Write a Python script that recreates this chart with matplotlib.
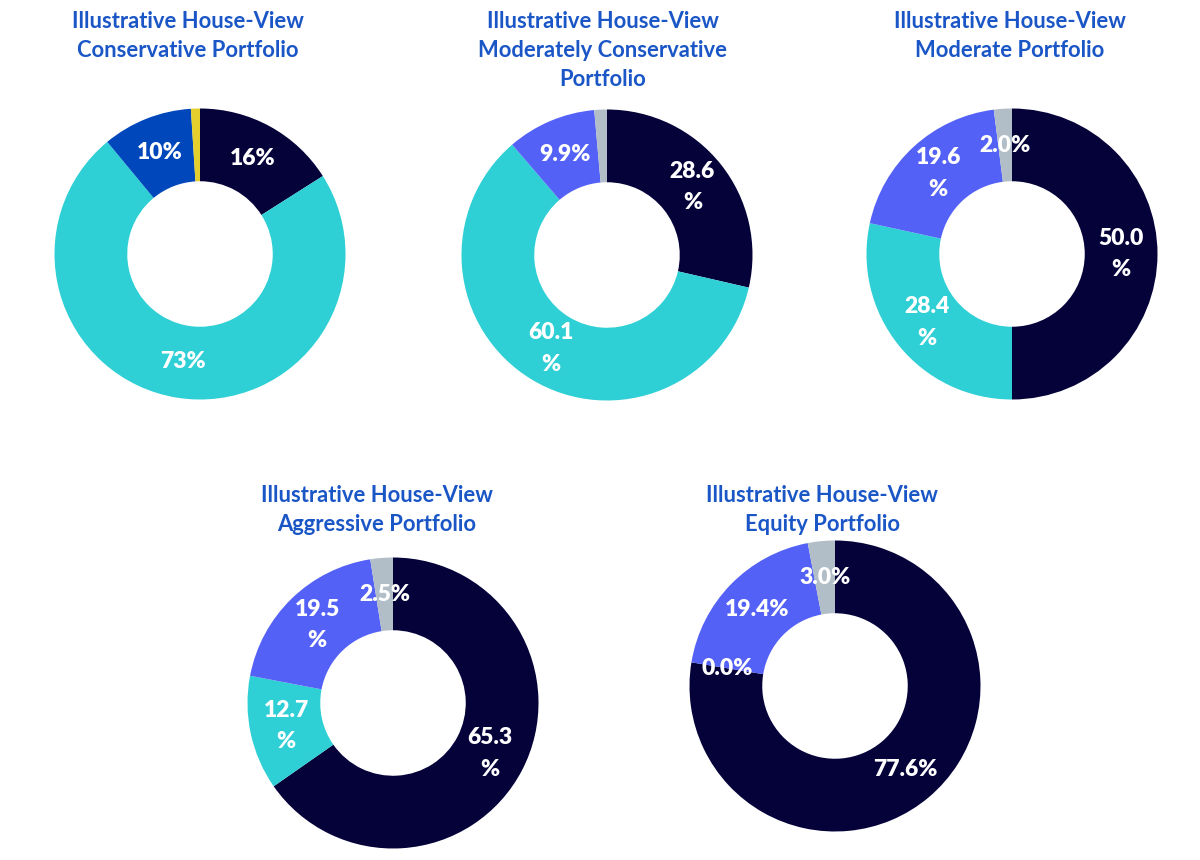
import numpy as np
import matplotlib
matplotlib.use("Agg")
import matplotlib.pyplot as plt

# --- data -------------------------------------------------------------
titles = [
    "Illustrative House-View\nConservative Portfolio",
    "Illustrative House-View\nModerately Conservative\nPortfolio",
    "Illustrative House-View\nModerate Portfolio",
    "Illustrative House-View\nAggressive Portfolio",
    "Illustrative House-View\nEquity Portfolio",
]

conservative = [16, 73, 10, 1]
mod_conservative = [28.6, 60.1, 9.9, 1.4]
moderate = [50.0, 28.4, 19.6, 2.0]
aggressive = [65.3, 12.7, 19.5, 2.5]
equity = [77.6, 0.0, 19.4, 3.0]

conservative_labels = ["16%", "73%", "10%", ""]
mod_conservative_labels = ["28.6\n%", "60.1\n%", "9.9%", ""]
moderate_labels = ["50.0\n%", "28.4\n%", "19.6\n%", "2.0%"]
aggressive_labels = ["65.3\n%", "12.7\n%", "19.5\n%", "2.5%"]
equity_labels = ["77.6%", "0.0%", "19.4%", "3.0%"]

NAVY = "#05023A"
CYAN = "#2ECFD5"
ROYAL = "#0047BB"
PERI = "#5461F6"
GREY = "#B1BEC8"
YELLOW = "#E4CF2C"
TITLE_BLUE = "#1A56C6"

colors_first = [NAVY, CYAN, ROYAL, YELLOW]
colors_rest = [NAVY, CYAN, PERI, GREY]

# --- layout (pixel centres of each donut, title centres) -------------
W, H = 1200, 860
R_PX = 145.5
centers = [(200, 254), (607, 255), (1012, 254), (393, 703), (835, 686)]
title_x = [188, 603, 1010, 377, 822]
title_first_y = [21, 21, 21, 495, 495]
LINE_PX = 29.5

plt.rcParams["font.family"] = ["Lato", "DejaVu Sans"]

fig = plt.figure(figsize=(W / 100, H / 100), dpi=100)
fig.patch.set_facecolor("white")

series = [conservative, mod_conservative, moderate, aggressive, equity]
labels = [conservative_labels, mod_conservative_labels, moderate_labels,
          aggressive_labels, equity_labels]

for i, (vals, labs) in enumerate(zip(series, labels)):
    cx, cy = centers[i]
    ax = fig.add_axes([(cx - R_PX) / W, 1 - (cy + R_PX) / H,
                       2 * R_PX / W, 2 * R_PX / H])
    cols = colors_first if i == 0 else colors_rest
    wedges, _ = ax.pie(vals, colors=cols, startangle=90, counterclock=False,
                       radius=1.0, wedgeprops=dict(width=0.5, linewidth=0))
    ax.set_xlim(-1, 1)
    ax.set_ylim(-1, 1)
    ax.set_aspect("equal")
    ax.axis("off")

    # labels at the middle of each ring segment
    for w, lab in zip(wedges, labs):
        if not lab:
            continue
        ang = np.deg2rad((w.theta1 + w.theta2) / 2)
        r = 0.75
        ax.text(r * np.cos(ang), r * np.sin(ang), lab, ha="center",
                va="center", color="white", fontsize=16.5, fontweight="heavy",
                linespacing=1.6)

    n_lines = titles[i].count("\n") + 1
    ty = title_first_y[i] + (n_lines - 1) * LINE_PX / 2
    fig.text(title_x[i] / W, 1 - ty / H, titles[i], ha="center", va="center",
             color=TITLE_BLUE, fontsize=15.8, fontweight="bold",
             linespacing=1.45)

fig.savefig("out.png", dpi=100, facecolor="white")
